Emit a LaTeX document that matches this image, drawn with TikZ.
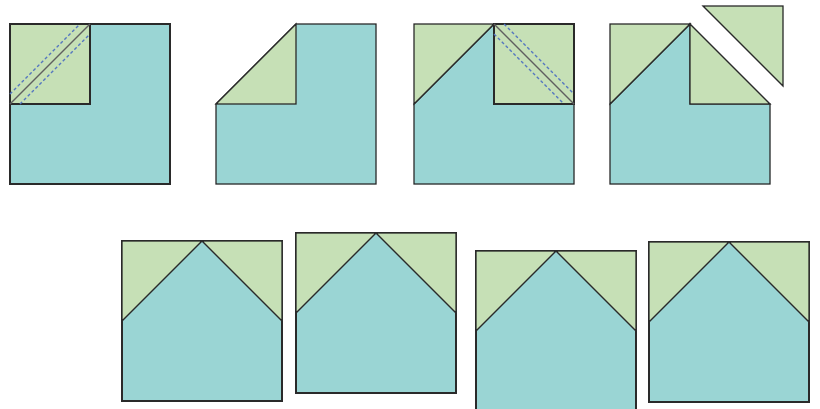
\documentclass[tikz,border=0pt]{standalone}
\definecolor{teal1}{HTML}{9AD5D4}
\definecolor{green1}{HTML}{C6E0B6}
\definecolor{edge}{HTML}{2A2A2A}
\definecolor{seam}{HTML}{5577C0}
\begin{document}
\begin{tikzpicture}[x=1pt,y=-1pt,
  tealpiece/.style={fill=teal1,draw=edge,line width=1.1pt,line join=miter},
  greenpiece/.style={fill=green1,draw=edge,line width=1.1pt,line join=miter},
  seamline/.style={draw=seam,line width=1.1pt,dash pattern=on 3pt off 2.5pt},
  foldline/.style={draw=edge!75,line width=1.1pt}]
\useasboundingbox (0,0) rectangle (820,408);
% Panel 1
\draw[tealpiece] (10,24) rectangle (170,184);
\draw[greenpiece] (10,24) rectangle (90,104);
\draw[foldline] (10,104) -- (90,24);
\draw[seamline] (10,94) -- (80,24);
\draw[seamline] (20,104) -- (90,34);
% Panel 2
\draw[tealpiece] (216,104) -- (296,24) -- (376,24) -- (376,184) -- (216,184) -- cycle;
\draw[greenpiece] (216,104) -- (296,24) -- (296,104) -- cycle;
% Panel 3
\draw[tealpiece] (414,104) -- (494,24) -- (574,24) -- (574,184) -- (414,184) -- cycle;
\draw[greenpiece] (414,24) -- (494,24) -- (414,104) -- cycle;
\draw[greenpiece] (494,24) rectangle (574,104);
\draw[foldline] (494,24) -- (574,104);
\draw[seamline] (504,24) -- (574,94);
\draw[seamline] (494,34) -- (564,104);
% Panel 4
\draw[tealpiece] (610,104) -- (690,24) -- (690,104) -- (770,104) -- (770,184) -- (610,184) -- cycle;
\draw[greenpiece] (610,24) -- (690,24) -- (610,104) -- cycle;
\draw[greenpiece] (690,24) -- (770,104) -- (690,104) -- cycle;
\draw[greenpiece] (703,6) -- (783,6) -- (783,86) -- cycle;
% Bottom row
\foreach \x/\y in {122/241, 296/233, 476/251, 649/242}{
  \draw[tealpiece] (\x,\y) rectangle ++(160,160);
  \draw[greenpiece] (\x,\y) -- ++(80,0) -- ++(-80,80) -- cycle;
  \draw[greenpiece] (\x+80,\y) -- ++(80,0) -- ++(0,80) -- cycle;
}
\end{tikzpicture}
\end{document}
